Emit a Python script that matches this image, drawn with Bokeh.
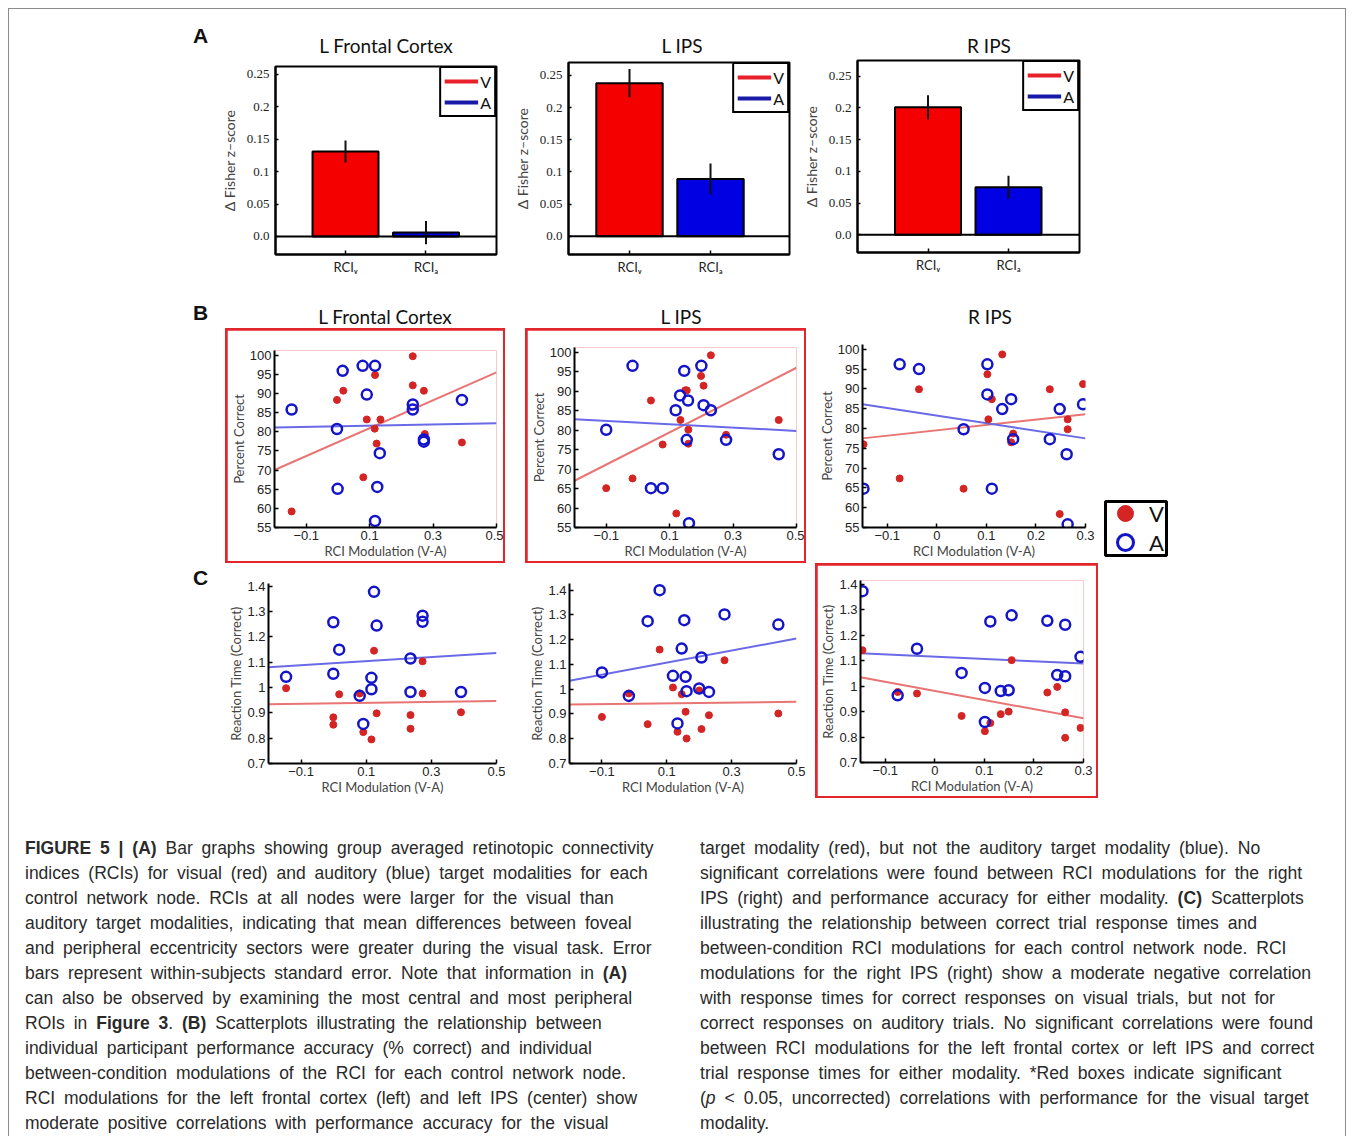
from bokeh.plotting import figure
from bokeh.models import Range1d, FixedTicker, Span, Legend, LegendItem, Div, Spacer, ColumnDataSource
from bokeh.layouts import row, column
from bokeh.embed import file_html
from bokeh.resources import INLINE

# ---------------- data ----------------
regions = ["L Frontal Cortex", "L IPS", "R IPS"]
bar_positions = [1, 2]
bar_tick_labels = ["RCIᵥ", "RCIₐ"]
rci_v = [0.131, 0.238, 0.201]
rci_v_err = [0.017, 0.022, 0.019]
rci_a = [0.006, 0.089, 0.075]
rci_a_err = [0.018, 0.024, 0.018]
bar_yticks = [0.0, 0.05, 0.1, 0.15, 0.2, 0.25]
bar_ytick_labels = ["0.0", "0.05", "0.1", "0.15", "0.2", "0.25"]

# (B) accuracy scatter
acc_lfc_v_x = [-0.146, -0.003, 0.017, 0.091, 0.116, 0.117, 0.122, 0.134, 0.080, 0.236, 0.236, 0.271, 0.274, 0.391]
acc_lfc_v_y = [59.2, 88.3, 90.7, 83.2, 80.8, 94.8, 76.9, 83.2, 68.1, 99.7, 92.1, 90.7, 79.4, 77.2]
acc_lfc_a_x = [-0.146, -0.003, -0.001, 0.015, 0.078, 0.091, 0.117, 0.132, 0.124, 0.117, 0.236, 0.236, 0.271, 0.271, 0.391]
acc_lfc_a_y = [85.8, 80.7, 65.1, 95.9, 97.2, 89.7, 97.2, 74.4, 65.6, 56.7, 87.1, 85.8, 78.0, 77.4, 88.3]

acc_lips_v_x = [-0.100, -0.017, 0.041, 0.078, 0.121, 0.134, 0.149, 0.154, 0.159, 0.159, 0.199, 0.207, 0.230, 0.278, 0.444]
acc_lips_v_y = [65.1, 67.6, 87.6, 76.3, 58.6, 82.6, 90.2, 90.2, 80.1, 76.5, 93.9, 91.4, 99.2, 78.8, 82.6]
acc_lips_a_x = [-0.100, -0.017, 0.041, 0.078, 0.119, 0.133, 0.146, 0.158, 0.154, 0.161, 0.200, 0.207, 0.230, 0.278, 0.444]
acc_lips_a_y = [80.1, 96.5, 65.1, 65.1, 85.1, 88.9, 95.2, 87.6, 77.5, 56.1, 96.5, 86.4, 85.1, 77.5, 73.8]

acc_rips_v_x = [-0.148, -0.075, -0.036, 0.054, 0.102, 0.111, 0.104, 0.132, 0.150, 0.154, 0.228, 0.248, 0.264, 0.264, 0.295]
acc_rips_v_y = [76.0, 67.4, 89.9, 64.8, 93.7, 87.4, 82.3, 98.7, 76.5, 78.7, 89.9, 58.4, 82.3, 79.8, 91.2]
acc_rips_a_x = [-0.148, -0.075, -0.036, 0.054, 0.102, 0.102, 0.111, 0.132, 0.150, 0.154, 0.228, 0.248, 0.262, 0.264, 0.295]
acc_rips_a_y = [64.8, 96.2, 95.0, 79.8, 96.2, 88.6, 64.8, 84.9, 87.4, 77.3, 77.3, 84.9, 73.5, 55.8, 86.1]

# (C) reaction time scatter
rt_lfc_v_x = [-0.146, -0.001, -0.001, 0.017, 0.080, 0.091, 0.116, 0.124, 0.132, 0.236, 0.236, 0.273, 0.273, 0.391]
rt_lfc_v_y = [0.997, 0.882, 0.853, 0.973, 0.976, 0.824, 0.795, 1.145, 0.898, 0.891, 0.837, 1.103, 0.976, 0.902]
rt_lfc_a_x = [-0.146, -0.001, -0.001, 0.017, 0.080, 0.091, 0.116, 0.116, 0.124, 0.132, 0.236, 0.236, 0.273, 0.273, 0.391]
rt_lfc_a_y = [1.042, 1.257, 1.054, 1.149, 0.967, 0.856, 1.038, 0.993, 1.377, 1.244, 1.114, 0.982, 1.283, 1.259, 0.982]

rt_lips_v_x = [-0.100, -0.017, 0.041, 0.078, 0.119, 0.133, 0.146, 0.158, 0.161, 0.200, 0.207, 0.230, 0.278, 0.444]
rt_lips_v_y = [0.888, 0.983, 0.859, 1.160, 1.007, 0.828, 0.980, 0.909, 0.801, 0.995, 0.839, 0.895, 1.117, 0.902]
rt_lips_a_x = [-0.100, -0.017, 0.041, 0.078, 0.119, 0.133, 0.146, 0.154, 0.158, 0.161, 0.200, 0.207, 0.230, 0.278, 0.444]
rt_lips_a_y = [1.068, 0.973, 1.275, 1.400, 1.054, 0.862, 1.164, 1.279, 1.050, 0.992, 1.003, 1.128, 0.989, 1.302, 1.261]

rt_rips_v_x = [-0.146, -0.075, -0.036, 0.054, 0.101, 0.112, 0.133, 0.149, 0.155, 0.227, 0.247, 0.263, 0.263, 0.294]
rt_rips_v_y = [1.141, 0.977, 0.971, 0.883, 0.823, 0.855, 0.890, 0.900, 1.102, 0.975, 0.997, 0.897, 0.797, 0.836]
rt_rips_a_x = [-0.146, -0.075, -0.036, 0.054, 0.101, 0.101, 0.112, 0.133, 0.149, 0.155, 0.227, 0.247, 0.263, 0.263, 0.294]
rt_rips_a_y = [1.373, 0.964, 1.147, 1.052, 0.993, 0.859, 1.254, 0.981, 0.984, 1.278, 1.257, 1.044, 1.241, 1.039, 1.115]

# regression lines: x end points and y values read at those ends
fit_x_wide = [-0.2, 0.5]
fit_x_narrow = [-0.15, 0.3]
fit_acc_lfc_v = [70.0, 95.5]
fit_acc_lfc_a = [81.1, 82.2]
fit_acc_lips_v = [67.0, 96.0]
fit_acc_lips_a = [82.8, 79.8]
fit_acc_rips_v = [77.5, 83.6]
fit_acc_rips_a = [86.1, 77.5]
fit_rt_lfc_v = [0.934, 0.947]
fit_rt_lfc_a = [1.080, 1.136]
fit_rt_lips_v = [0.938, 0.949]
fit_rt_lips_a = [1.034, 1.205]
fit_rt_rips_v = [1.035, 0.874]
fit_rt_rips_a = [1.129, 1.089]

# tick labels
xticks_wide = [-0.1, 0.1, 0.3, 0.5]
xtick_labels_wide = ["\u22120.1", "0.1", "0.3", "0.5"]
xticks_narrow = [-0.1, 0.0, 0.1, 0.2, 0.3]
xtick_labels_narrow = ["\u22120.1", "0", "0.1", "0.2", "0.3"]
acc_yticks = [55, 60, 65, 70, 75, 80, 85, 90, 95, 100]
acc_ytick_labels = ["55", "60", "65", "70", "75", "80", "85", "90", "95", "100"]
rt_yticks = [0.7, 0.8, 0.9, 1.0, 1.1, 1.2, 1.3, 1.4]
rt_ytick_labels = ["0.7", "0.8", "0.9", "1", "1.1", "1.2", "1.3", "1.4"]
legend_labels = ["V", "A"]

caption_left = [
    "<b>FIGURE 5 | (A)</b> Bar graphs showing group averaged retinotopic connectivity",
    "indices (RCIs) for visual (red) and auditory (blue) target modalities for each",
    "control network node. RCIs at all nodes were larger for the visual than",
    "auditory target modalities, indicating that mean differences between foveal",
    "and peripheral eccentricity sectors were greater during the visual task. Error",
    "bars represent within-subjects standard error. Note that information in <b>(A)</b>",
    "can also be observed by examining the most central and most peripheral",
    "ROIs in <b>Figure 3</b>. <b>(B)</b> Scatterplots illustrating the relationship between",
    "individual participant performance accuracy (% correct) and individual",
    "between-condition modulations of the RCI for each control network node.",
    "RCI modulations for the left frontal cortex (left) and left IPS (center) show",
    "moderate positive correlations with performance accuracy for the visual",
]
caption_right = [
    "target modality (red), but not the auditory target modality (blue). No",
    "significant correlations were found between RCI modulations for the right",
    "IPS (right) and performance accuracy for either modality. <b>(C)</b> Scatterplots",
    "illustrating the relationship between correct trial response times and",
    "between-condition RCI modulations for each control network node. RCI",
    "modulations for the right IPS (right) show a moderate negative correlation",
    "with response times for correct responses on visual trials, but not for",
    "correct responses on auditory trials. No significant correlations were found",
    "between RCI modulations for the left frontal cortex or left IPS and correct",
    "trial response times for either modality. *Red boxes indicate significant",
    "(<i>p</i> &lt; 0.05, uncorrected) correlations with performance for the visual target",
    "modality.",
]

# ---------------- styling ----------------
RED_BAR, BLUE_BAR = "#f40000", "#0000e2"
RED_LEG, BLUE_LEG = "#e8202a", "#1a1aa8"
RED_DOT, BLUE_DOT = "#d42424", "#1414c8"
RED_FIT, BLUE_FIT = "#e87474", "#6a6ae6"
BOX_RED = "#e3262b"
NAN = float("nan")


def base_fig(w, h, bl, bt, br, bb, xr, yr):
    p = figure(width=w, height=h, x_range=Range1d(*xr), y_range=Range1d(*yr),
               output_backend="svg", toolbar_location=None,
               min_border_left=bl, min_border_top=bt, min_border_right=br, min_border_bottom=bb)
    p.grid.visible = False
    p.background_fill_color = "white"
    p.border_fill_color = "white"
    for ax in (p.xaxis, p.yaxis):
        ax.axis_line_width = 2
        ax.axis_line_color = "black"
        ax.major_tick_in = 4
        ax.major_tick_out = 0
        ax.major_tick_line_width = 1.5
        ax.major_tick_line_color = "black"
        ax.minor_tick_line_color = None
        ax.axis_label_text_font = "Lato"
        ax.axis_label_text_font_style = "normal"
        ax.axis_label_text_color = "#444444"
        ax.major_label_text_color = "#222222"
    return p


def bar_fig(i, geom):
    p = base_fig(geom["w"], geom["h"], geom["bl"], geom["bt"], geom["br"], geom["bb"], geom["xr"], geom["yr"])
    p.outline_line_color = "black"
    p.outline_line_width = 2
    p.outline_line_alpha = 1
    src = ColumnDataSource(dict(
        x=bar_positions,
        top=[rci_v[i], rci_a[i]],
        lo=[rci_v[i] - rci_v_err[i], rci_a[i] - rci_a_err[i]],
        hi=[rci_v[i] + rci_v_err[i], rci_a[i] + rci_a_err[i]],
        color=[RED_BAR, BLUE_BAR],
    ))
    p.vbar(x="x", top="top", bottom=0, width=0.82, fill_color="color", line_color="black", line_width=2, source=src)
    p.segment(x0="x", y0="lo", x1="x", y1="hi", line_color="#111111", line_width=2, source=src)
    p.add_layout(Span(location=0, dimension="width", line_color="black", line_width=2))
    # legend-only line renderers (nothing visible in the plot)
    rv = p.line(x=[NAN], y=[NAN], line_color=RED_LEG, line_width=4)
    ra = p.line(x=[NAN], y=[NAN], line_color=BLUE_LEG, line_width=4)
    leg = Legend(items=[LegendItem(label=legend_labels[0], renderers=[rv]),
                        LegendItem(label=legend_labels[1], renderers=[ra])],
                 location="top_right", margin=0, padding=3, spacing=1,
                 glyph_width=34, glyph_height=20, label_height=20, label_width=10, label_standoff=2,
                 border_line_color="black", border_line_width=2, border_line_alpha=1,
                 background_fill_color="white", background_fill_alpha=1,
                 label_text_font="Lato", label_text_font_size="16px", label_text_color="#111111")
    p.add_layout(leg)
    p.xaxis.ticker = FixedTicker(ticks=bar_positions)
    p.xaxis.major_label_overrides = dict(zip(bar_positions, bar_tick_labels))
    p.xaxis.major_label_text_font = "Lato"
    p.xaxis.major_label_text_font_size = "13px"
    p.xaxis.major_label_standoff = 4
    p.yaxis.ticker = FixedTicker(ticks=bar_yticks)
    p.yaxis.major_label_overrides = dict(zip(bar_yticks, bar_ytick_labels))
    p.yaxis.major_label_text_font = "Liberation Serif"
    p.yaxis.major_label_text_font_size = "13px"
    p.yaxis.major_label_standoff = 6
    p.yaxis.major_tick_in = 3
    p.yaxis.axis_label = "\u0394 Fisher z\u2013score"
    p.yaxis.axis_label_text_font_size = "14px"
    p.yaxis.axis_label_standoff = 6
    return p


def scatter_fig(geom, vx, vy, ax_, ay, fit_x, fit_v, fit_a, xticks, xlabels, yticks, ylabels, ylabel, boxed):
    g = dict(geom)
    if boxed:  # leave a 2px ring for the red box drawn by the wrapper
        g["w"] -= 4; g["h"] -= 4
        g["bl"] -= 2; g["bt"] -= 2; g["br"] -= 2; g["bb"] -= 2
    p = base_fig(g["w"], g["h"], g["bl"], g["bt"], g["br"], g["bb"], g["xr"], g["yr"])
    p.outline_line_color = None
    p.line(x=fit_x, y=fit_v, line_color=RED_FIT, line_width=2)
    p.line(x=fit_x, y=fit_a, line_color=BLUE_FIT, line_width=2)
    p.scatter(x=vx, y=vy, marker="circle", size=7, fill_color=RED_DOT, line_color=RED_DOT)
    p.scatter(x=ax_, y=ay, marker="circle", size=10, fill_color=None, line_color=BLUE_DOT, line_width=2.5)
    p.xaxis.ticker = FixedTicker(ticks=xticks)
    p.xaxis.major_label_overrides = dict(zip(xticks, xlabels))
    p.yaxis.ticker = FixedTicker(ticks=yticks)
    p.yaxis.major_label_overrides = dict(zip(yticks, ylabels))
    for ax in (p.xaxis, p.yaxis):
        ax.major_label_text_font = "Liberation Sans"
        ax.major_label_text_font_size = "13px"
        ax.major_label_standoff = 3
        ax.axis_label_text_font_size = "13px"
        ax.axis_label_standoff = 0
    p.xaxis.axis_label = "RCI Modulation (V-A)"
    p.yaxis.axis_label = ylabel
    if not boxed:
        return p
    w, h = geom["w"], geom["h"]
    return column(
        Spacer(width=w, height=2, margin=0),
        row(Spacer(width=2, height=h - 4, margin=0), p, Spacer(width=2, height=h - 4, margin=0)),
        Spacer(width=w, height=2, margin=0),
        styles={"background": BOX_RED},
    )


def scatter_legend_fig():
    lf = figure(width=65, height=58, x_range=Range1d(0, 1), y_range=Range1d(0, 1),
                output_backend="svg", toolbar_location=None,
                x_axis_location=None, y_axis_location=None, min_border=2)
    lf.grid.visible = False
    lf.outline_line_color = "black"
    lf.outline_line_width = 3
    lf.outline_line_alpha = 1
    rv = lf.scatter(x=[NAN], y=[NAN], marker="circle", size=16, fill_color=RED_DOT, line_color=RED_DOT)
    ra = lf.scatter(x=[NAN], y=[NAN], marker="circle", size=16, fill_color=None, line_color=BLUE_DOT, line_width=3)
    # one legend per entry so the two rows can sit closer than the marker box height
    for rend, lab, ypos in ((rv, legend_labels[0], 22), (ra, legend_labels[1], -7)):
        leg = Legend(items=[LegendItem(label=lab, renderers=[rend])],
                     location=(0, ypos), margin=0, padding=0, spacing=0,
                     glyph_width=40, glyph_height=40, label_height=20, label_width=14, label_standoff=4,
                     border_line_color=None, background_fill_alpha=0,
                     label_text_font="Lato", label_text_font_size="22px", label_text_color="#111111")
        lf.add_layout(leg)
    return lf


def letter_div(ch, w, h, pt):
    html = ('<div style="padding-top:%dpx;font-family:\'Liberation Sans\';font-weight:bold;'
            'font-size:21px;line-height:21px;color:#111">%s</div>' % (pt, ch))
    return Div(text=html, width=w, height=h, margin=0)


def title_div(txt, w, h, c, pt):
    pl = max(0, 2 * c - w)
    pr = max(0, w - 2 * c)
    html = ('<div style="box-sizing:border-box;width:%dpx;padding-left:%dpx;padding-right:%dpx;'
            'padding-top:%dpx;text-align:center;white-space:nowrap;font-family:Lato;font-size:19px;'
            'line-height:20px;color:#111">%s</div>' % (w, pl, pr, pt, txt))
    return Div(text=html, width=w, height=h, margin=0)


def caption_div(lines, w, h, fs):
    inner = "".join('<div style="white-space:nowrap;height:25px;line-height:25px">%s</div>' % ln for ln in lines)
    html = ('<div style="font-family:\'Liberation Sans\';font-size:%spx;word-spacing:4px;'
            'color:#2a2a2a">%s</div>' % (fs, inner))
    return Div(text=html, width=w, height=h, margin=0)


# ---------------- row A: bars ----------------
bar_geoms = [
    dict(w=290, h=232, bl=60, bt=8, br=9, bb=36, xr=(0.13, 2.876), yr=(-0.0278, 0.2623)),
    dict(w=290, h=232, bl=63, bt=4, br=6, bb=36, xr=(0.247, 2.975), yr=(-0.0285, 0.2702)),
    dict(w=295, h=232, bl=62, bt=2, br=11, bb=38, xr=(0.124, 2.882), yr=(-0.0279, 0.2747)),
]
figA = [bar_fig(i, g) for i, g in enumerate(bar_geoms)]
rowA = row(
    Spacer(width=185, height=282, margin=0),
    letter_div("A", 22, 282, 17),
    column(title_div(regions[0], 290, 50, 171, 28), figA[0]),
    column(title_div(regions[1], 290, 50, 177, 28), figA[1]),
    column(title_div(regions[2], 295, 50, 194, 28), figA[2]),
)

# ---------------- row B: accuracy ----------------
geomB = [
    dict(w=280, h=235, bl=42, bt=22, br=9, bb=31, xr=(-0.2, 0.5), yr=(55, 101.2)),
    dict(w=281, h=235, bl=44, bt=19, br=10, bb=33, xr=(-0.2, 0.5), yr=(55, 101.2)),
    dict(w=280, h=235, bl=42, bt=16, br=10, bb=36, xr=(-0.15, 0.3), yr=(55, 101.2)),
]
figB1 = scatter_fig(geomB[0], acc_lfc_v_x, acc_lfc_v_y, acc_lfc_a_x, acc_lfc_a_y, fit_x_wide,
                    fit_acc_lfc_v, fit_acc_lfc_a, xticks_wide, xtick_labels_wide,
                    acc_yticks, acc_ytick_labels, "Percent Correct", True)
figB2 = scatter_fig(geomB[1], acc_lips_v_x, acc_lips_v_y, acc_lips_a_x, acc_lips_a_y, fit_x_wide,
                    fit_acc_lips_v, fit_acc_lips_a, xticks_wide, xtick_labels_wide,
                    acc_yticks, acc_ytick_labels, "Percent Correct", True)
figB3 = scatter_fig(geomB[2], acc_rips_v_x, acc_rips_v_y, acc_rips_a_x, acc_rips_a_y, fit_x_narrow,
                    fit_acc_rips_v, fit_acc_rips_a, xticks_narrow, xtick_labels_narrow,
                    acc_yticks, acc_ytick_labels, "Percent Correct", False)

rowB = row(
    Spacer(width=185, height=273, margin=0),
    letter_div("B", 32, 273, 12),
    column(title_div(regions[0], 280, 38, 160, 17), figB1),
    Spacer(width=20, height=273, margin=0),
    column(title_div(regions[1], 281, 38, 156, 17), figB2),
    Spacer(width=9, height=273, margin=0),
    column(title_div(regions[2], 280, 38, 175, 17), figB3),
    Spacer(width=8, height=273, margin=0),
    column(Spacer(width=65, height=209, margin=0), scatter_legend_fig()),
)

# ---------------- row C: reaction time ----------------
geomC = [
    dict(w=280, h=237, bl=42, bt=20, br=9, bb=34, xr=(-0.2, 0.5), yr=(0.7, 1.41)),
    dict(w=281, h=237, bl=44, bt=20, br=10, bb=37, xr=(-0.2, 0.5), yr=(0.7, 1.427)),
    dict(w=283, h=235, bl=40, bt=17, br=15, bb=34, xr=(-0.15, 0.3), yr=(0.7, 1.415)),
]
figC1 = scatter_fig(geomC[0], rt_lfc_v_x, rt_lfc_v_y, rt_lfc_a_x, rt_lfc_a_y, fit_x_wide,
                    fit_rt_lfc_v, fit_rt_lfc_a, xticks_wide, xtick_labels_wide,
                    rt_yticks, rt_ytick_labels, "Reaction Time (Correct)", False)
figC2 = scatter_fig(geomC[1], rt_lips_v_x, rt_lips_v_y, rt_lips_a_x, rt_lips_a_y, fit_x_wide,
                    fit_rt_lips_v, fit_rt_lips_a, xticks_wide, xtick_labels_wide,
                    rt_yticks, rt_ytick_labels, "Reaction Time (Correct)", False)
figC3 = scatter_fig(geomC[2], rt_rips_v_x, rt_rips_v_y, rt_rips_a_x, rt_rips_a_y, fit_x_narrow,
                    fit_rt_rips_v, fit_rt_rips_a, xticks_narrow, xtick_labels_narrow,
                    rt_yticks, rt_ytick_labels, "Reaction Time (Correct)", True)
rowC = row(
    Spacer(width=185, height=237, margin=0),
    letter_div("C", 32, 237, 4),
    figC1,
    Spacer(width=20, height=237, margin=0),
    figC2,
    Spacer(width=9, height=237, margin=0),
    figC3,
)

# ---------------- caption ----------------
rowCap = row(
    Spacer(width=17, height=300, margin=0),
    caption_div(caption_left, 640, 300, 17.5),
    Spacer(width=35, height=300, margin=0),
    caption_div(caption_right, 640, 300, 17.6),
)

page = column(rowA, rowB, rowC, Spacer(width=1338, height=36, margin=0), rowCap,
              width=1338, height=1128,
              styles={"box-shadow": "inset 1px 1px 0 0 #8c8c8c, inset -1px 0 0 0 #8c8c8c",
                      "background": "white"})

root = row(Spacer(width=8, height=1136, margin=0),
           column(Spacer(width=1338, height=8, margin=0), page))

open("out.html", "w").write(file_html(root, INLINE))
